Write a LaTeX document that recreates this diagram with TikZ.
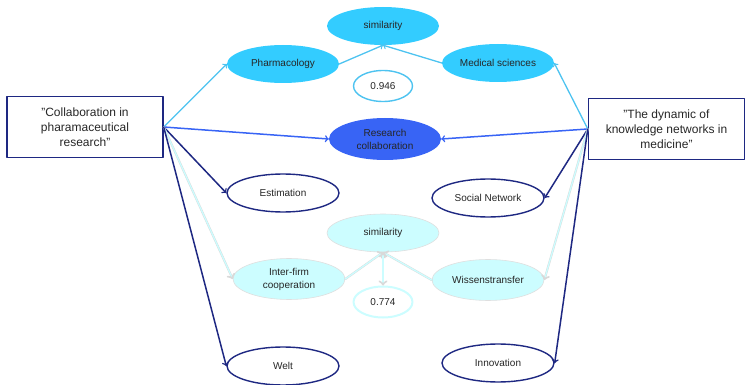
\documentclass[tikz,border=0pt]{standalone}
\usepackage{fontspec}
\setmainfont{Liberation Sans}
\usetikzlibrary{arrows}
\usetikzlibrary{shapes.geometric}

\definecolor{skyfill}{RGB}{51,204,255}
\definecolor{skyline}{RGB}{77,195,240}
\definecolor{royal}{RGB}{56,100,245}
\definecolor{navyline}{RGB}{30,40,130}
\definecolor{palecyan}{RGB}{204,253,255}

\begin{document}
\begin{tikzpicture}[line cap=round,line join=round,>=to,x=1pt,y=-1pt,
  oval/.style={ellipse,minimum width=112pt,minimum height=38pt,inner sep=0pt,
    align=center,text=black!85,font=\fontsize{10}{13}\selectfont},
  skyoval/.style={oval,fill=skyfill},
  paleoval/.style={oval,fill=palecyan,draw=gray!25,line width=0.6pt},
  navyoval/.style={oval,fill=white,draw=navyline,line width=1.4pt},
  valueoval/.style={oval,minimum width=59pt,minimum height=31pt,fill=white,line width=1.4pt},
  source/.style={rectangle,draw=navyline,line width=1.4pt,minimum width=156pt,
    minimum height=61pt,align=center,text=black!85,font=\fontsize{12}{15}\selectfont},
  skyarrow/.style={->,draw=skyline,line width=1.3pt},
  navyarrow/.style={->,draw=navyline,line width=1.5pt},
  palearrow/.style={->,draw=gray!30,double=palecyan,double distance=1.3pt,line width=0.4pt}]
\useasboundingbox (0,0) rectangle (745,385);
% papers
\node[source] (paperA) at (85,127) {"Collaboration in\\pharamaceutical\\research"};
\node[source] (paperB) at (666.5,129) {"The dynamic of\\knowledge networks in\\medicine"};
% upper group
\node[skyoval] (simA) at (383,26) {similarity};
\node[skyoval] (pharma) at (283,64) {Pharmacology};
\node[skyoval] (medsci) at (498,63) {Medical sciences};
\node[valueoval,draw=skyline] (valA) at (383,86) {0.946};
\node[oval,fill=royal,minimum height=42pt] (research) at (385,139) {Research\\collaboration};
% own keywords
\node[navyoval] (estim) at (283,193) {Estimation};
\node[navyoval] (socnet) at (488,198) {Social Network};
\node[navyoval] (welt) at (283,366) {Welt};
\node[navyoval] (innov) at (498,363) {Innovation};
% lower group
\node[paleoval] (simB) at (383,233) {similarity};
\node[paleoval,minimum height=41pt] (interfirm) at (289,279) {Inter-firm\\cooperation};
\node[paleoval,minimum height=41pt] (wissen) at (488,280) {Wissenstransfer};
\node[valueoval,draw=palecyan,line width=2pt] (valB) at (383,302) {0.774};

\draw[skyarrow] (paperA.east) -- (pharma.west);
\draw[->,draw=royal,line width=1.5pt] (paperA.east) -- (research.west);
\draw[navyarrow] (paperA.east) -- (estim.west);
\draw[palearrow] (paperA.east) -- (interfirm.west);
\draw[navyarrow] (paperA.east) -- (welt.west);

\draw[skyarrow] (paperB.west) -- (medsci.east);
\draw[->,draw=royal,line width=1.5pt] (paperB.west) -- (research.east);
\draw[navyarrow] (paperB.west) -- (socnet.east);
\draw[palearrow] (paperB.west) -- (wissen.east);
\draw[navyarrow] (paperB.west) -- (innov.east);

\draw[skyarrow] (pharma.east) -- (simA.south);
\draw[skyarrow] (medsci.west) -- (simA.south);
\draw[palearrow] (interfirm.east) -- (simB.south);
\draw[palearrow] (wissen.west) -- (simB.south);
\draw[palearrow,<->] (simB.south) -- (valB.north);
\end{tikzpicture}
\end{document}
